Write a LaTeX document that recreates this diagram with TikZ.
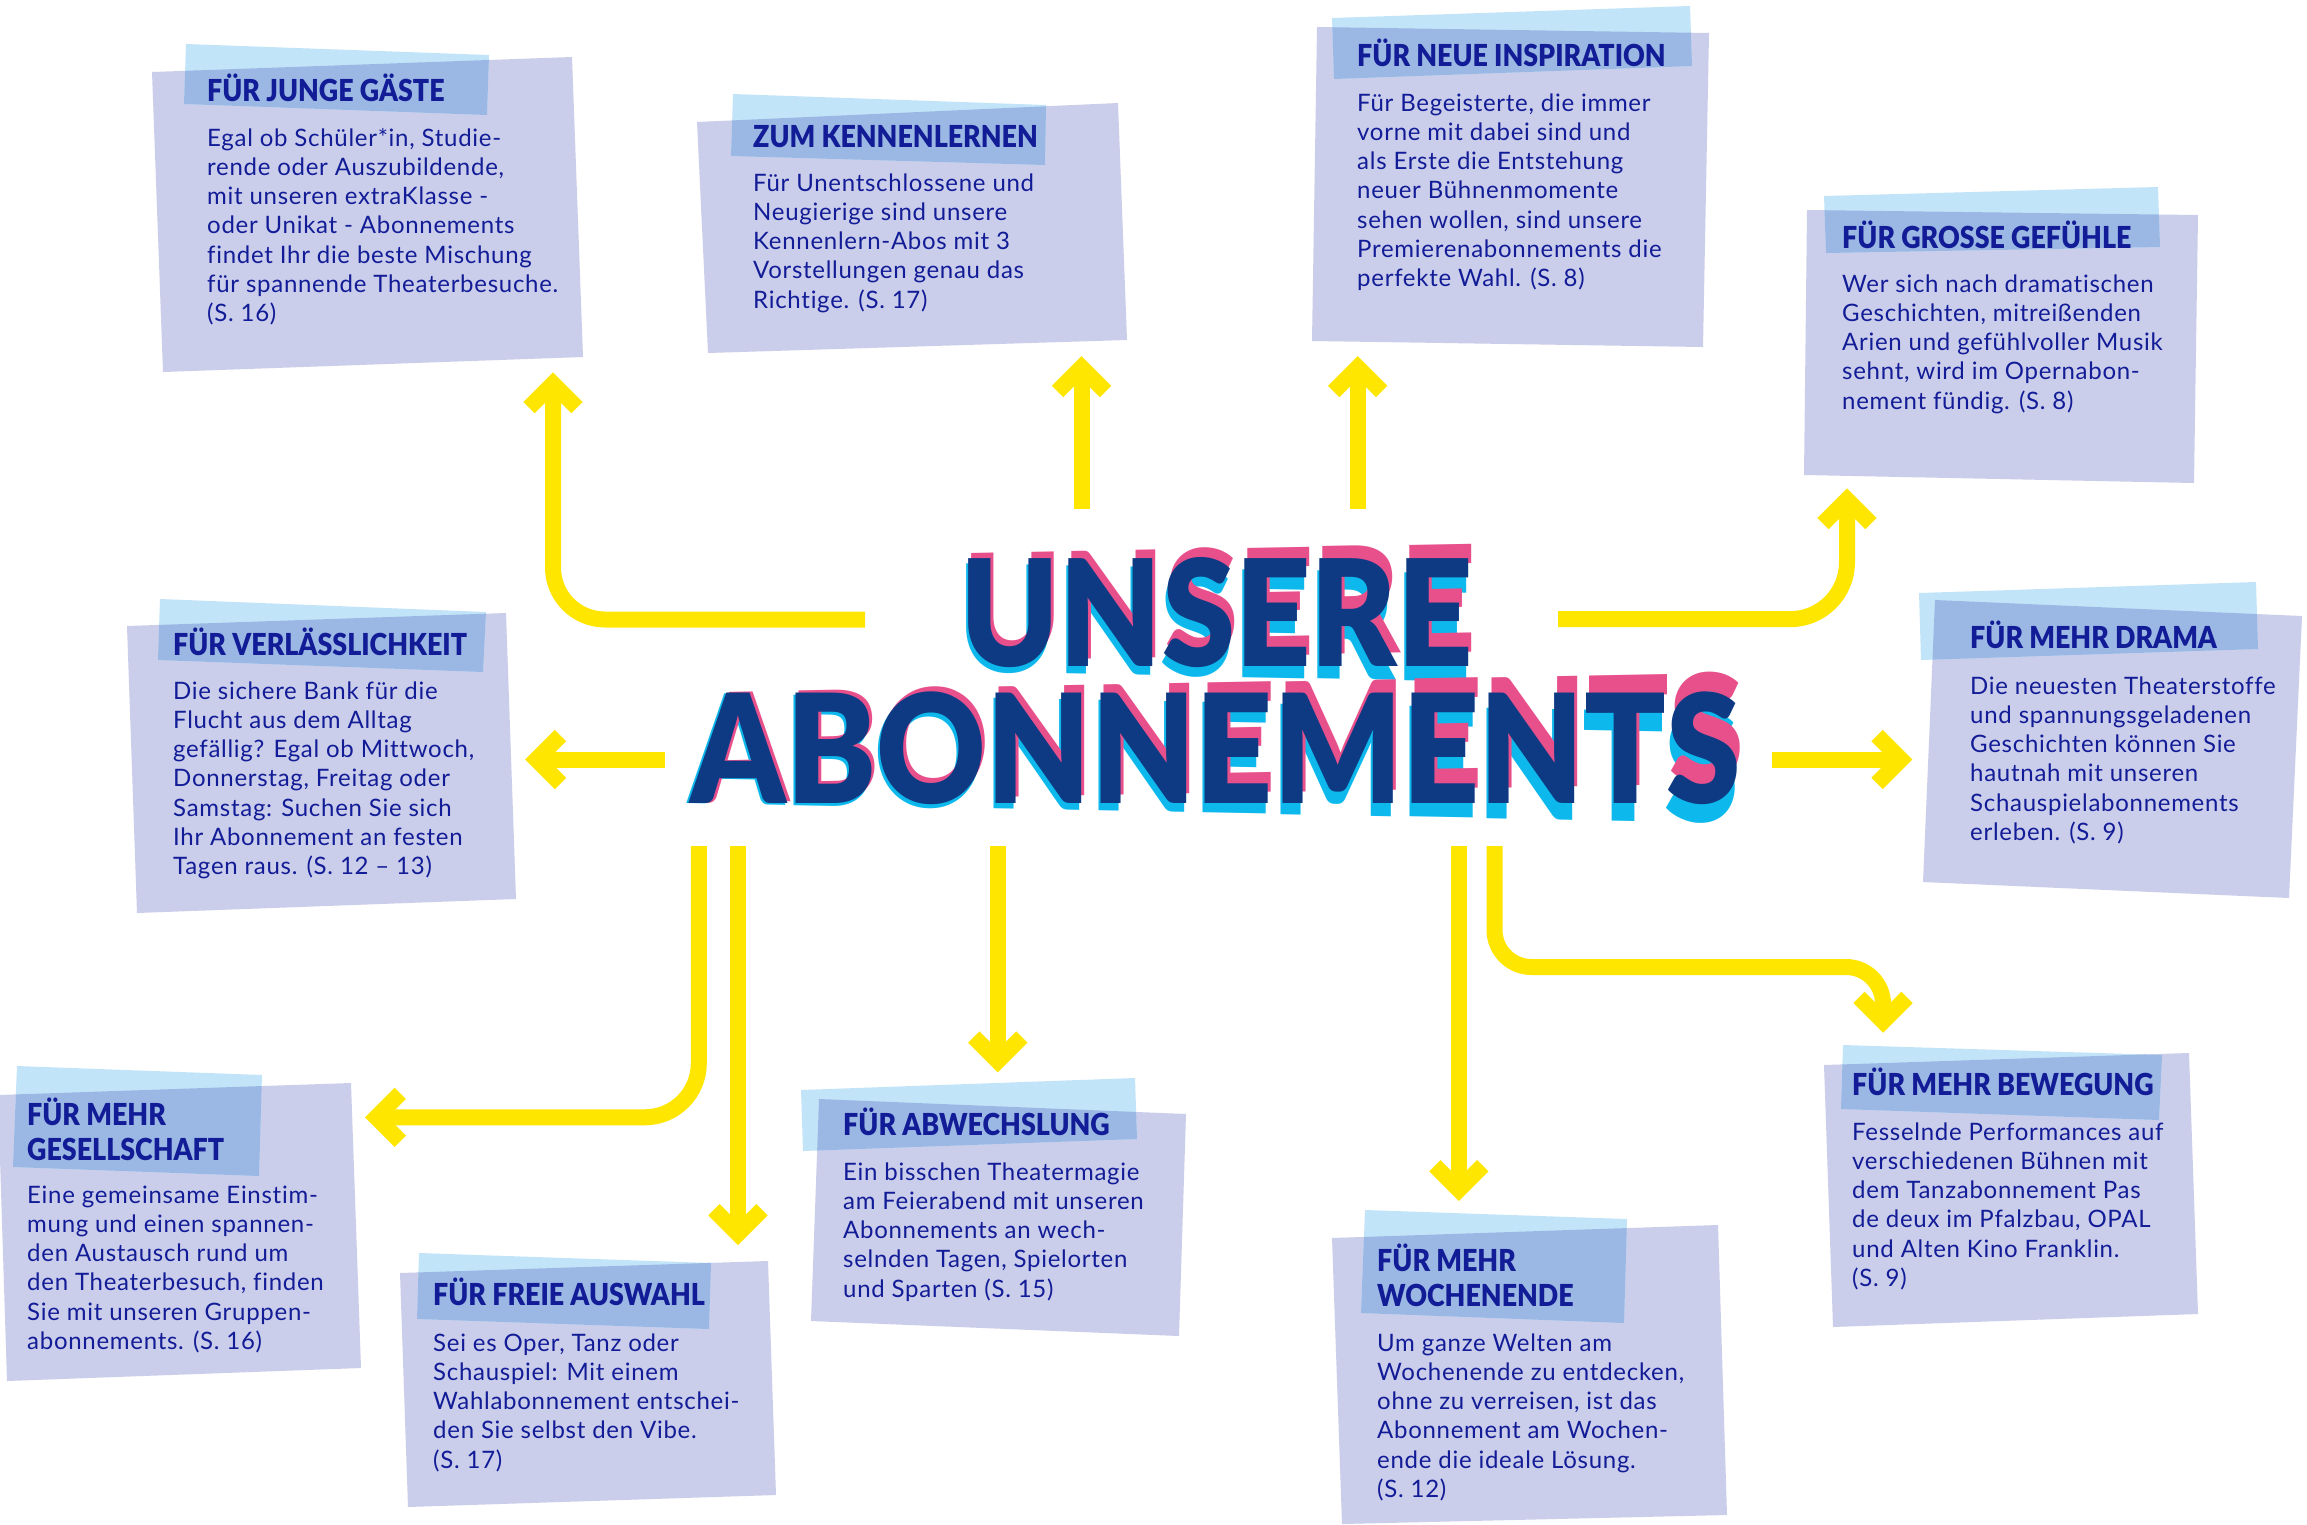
\documentclass[tikz,border=0pt]{standalone}
\usepackage{fontspec}
\usepackage{graphicx}
\setmainfont{Lato}
\newfontfamily\bodyfont[LetterSpace=3,Ligatures=NoCommon]{Lato}
\IfFontExistsTF{Lato Black}{%
  \newfontfamily\titlefont{Lato Black}%
  \newfontfamily\headfontX[FakeStretch=0.885]{Lato Black}%
  \newcommand\headfont{\headfontX}}{%
  \newcommand\titlefont{\bfseries}%
  \newfontfamily\headfontX[FakeStretch=0.92]{Lato}%
  \newcommand\headfont{\headfontX\bfseries}}
\definecolor{lav}{RGB}{203,206,235}
\definecolor{bandc}{RGB}{194,228,248}
\definecolor{ovl}{RGB}{155,184,229}
\definecolor{txt}{RGB}{18,28,150}
\definecolor{yel}{RGB}{255,230,0}
\definecolor{navy}{RGB}{14,58,132}
\definecolor{pinkc}{RGB}{232,80,140}
\definecolor{cyanc}{RGB}{13,185,236}
\newcommand\bodyf{\fontsize{24pt}{29.3pt}\selectfont\bodyfont}
\newcommand\headf{\fontsize{30.3pt}{35pt}\selectfont\headfont}
\newcommand\lines[1]{\begin{tabular}[t]{@{}l@{}}#1\end{tabular}}
\newcommand\abox[2]{%
  \fill[lav] #1 -- cycle;
  \fill[bandc] #2 -- cycle;
  \begin{scope}\clip #1 -- cycle; \fill[ovl] #2 -- cycle;\end{scope}}
\newcommand\wordA{\resizebox{512pt}{109pt}{UNSERE}}
\newcommand\wordB{\resizebox{1049pt}{111.6pt}{ABONNEMENTS}}
\tikzset{
  head/.style={anchor=base west, inner sep=0, text=txt, font=\headf},
  bodyt/.style={anchor=base west, inner sep=0, text=txt, font=\bodyf},
  ttl/.style={anchor=base west, inner sep=0, font=\titlefont},
  arrowline/.style={draw=yel, line width=16pt, line cap=butt},
  chev/.pic={\draw[arrowline, line join=miter] (-24,24) -- (0,0) -- (24,24);}
}
\begin{document}
\begin{tikzpicture}[x=1pt,y=-1pt]
\useasboundingbox (0,0) rectangle (2307,1524);
\fill[white] (0,0) rectangle (2307,1524);

% ---------- boxes ----------
\abox{(152,72) -- (572,57) -- (583,357) -- (163,372)}{(186,44) -- (489,55) -- (487,115) -- (184,104)}
\node[head] (h1) at (207,101.7) {FÜR JUNGE GÄSTE};
\node[bodyt] (b1) at (207,146) {\lines{Egal ob Schüler*in, Studie-\\rende oder Auszubildende,\\mit unseren extraKlasse -\\oder Unikat - Abonnements\\findet Ihr die beste Mischung\\für spannende Theaterbesuche.\\(S. 16)}};

\abox{(697,122) -- (1118,103) -- (1127,340) -- (708,353)}{(733,94) -- (1046,105) -- (1045,165) -- (731,156)}
\node[head] (h2) at (753,147) {ZUM KENNENLERNEN};
\node[bodyt] (b2) at (753,191) {\lines{Für Unentschlossene und\\Neugierige sind unsere\\Kennenlern-Abos mit 3\\Vorstellungen genau das\\Richtige. (S. 17)}};

\abox{(1317,27) -- (1709,33) -- (1703,347) -- (1312,341)}{(1332,18) -- (1690,6) -- (1692,66) -- (1334,79)}
\node[head] (h3) at (1357,66.7) {FÜR NEUE INSPIRATION};
\node[bodyt] (b3) at (1357,111) {\lines{Für Begeisterte, die immer\\vorne mit dabei sind und\\als Erste die Entstehung\\neuer Bühnenmomente\\sehen wollen, sind unsere\\Premierenabonnements die\\perfekte Wahl. (S. 8)}};

\abox{(1807,210) -- (2198,215) -- (2194,483) -- (1804,475)}{(1824,196) -- (2158,187) -- (2160,247) -- (1826,253)}
\node[head] (h4) at (1842,248) {FÜR GROSSE GEFÜHLE};
\node[bodyt] (b4) at (1842,292) {\lines{Wer sich nach dramatischen\\Geschichten, mitreißenden\\Arien und gefühlvoller Musik\\sehnt, wird im Opernabon-\\nement fündig. (S. 8)}};

\abox{(127,626) -- (506,613) -- (516,899) -- (137,913)}{(160,599) -- (486,612) -- (483,672) -- (158,660)}
\node[head] (h5) at (173,655) {FÜR VERLÄSSLICHKEIT};
\node[bodyt] (b5) at (173,699) {\lines{Die sichere Bank für die\\Flucht aus dem Alltag\\gefällig? Egal ob Mittwoch,\\Donnerstag, Freitag oder\\Samstag: Suchen Sie sich\\Ihr Abonnement an festen\\Tagen raus. (S. 12 – 13)}};

\abox{(1935,600) -- (2302,616) -- (2289,898) -- (1923,882)}{(1919,593) -- (2256,582) -- (2258,649) -- (1921,660)}
\node[head] (h6) at (1970,648) {FÜR MEHR DRAMA};
\node[bodyt] (b6) at (1970,694) {\lines{Die neuesten Theaterstoffe\\und spannungsgeladenen\\Geschichten können Sie\\hautnah mit unseren\\Schauspielabonnements\\erleben. (S. 9)}};

\abox{(-2,1095) -- (351,1083) -- (361,1368) -- (7,1381)}{(17,1066) -- (262,1075) -- (259,1176) -- (13,1167)}
\node[head] (h7) at (27,1125) {\lines{FÜR MEHR\\GESELLSCHAFT}};
\node[bodyt] (b7) at (27,1203) {\lines{Eine gemeinsame Einstim-\\mung und einen spannen-\\den Austausch rund um\\den Theaterbesuch, finden\\Sie mit unseren Gruppen-\\abonnements. (S. 16)}};

\abox{(400,1273) -- (768,1261) -- (776,1495) -- (408,1507)}{(419,1253) -- (711,1263) -- (709,1329) -- (417,1319)}
\node[head] (h8) at (433,1305) {FÜR FREIE AUSWAHL};
\node[bodyt] (b8) at (433,1351) {\lines{Sei es Oper, Tanz oder\\Schauspiel: Mit einem\\Wahlabonnement entschei-\\den Sie selbst den Vibe.\\(S. 17)}};

\abox{(819,1099) -- (1186,1114) -- (1179,1336) -- (811,1321)}{(801,1090) -- (1135,1078) -- (1137,1139) -- (803,1151)}
\node[head] (h9) at (843,1135) {FÜR ABWECHSLUNG};
\node[bodyt] (b9) at (843,1180) {\lines{Ein bisschen Theatermagie\\am Feierabend mit unseren\\Abonnements an wech-\\selnden Tagen, Spielorten\\und Sparten (S. 15)}};

\abox{(1332,1238) -- (1718,1225) -- (1727,1515) -- (1342,1524)}{(1365,1210) -- (1627,1219) -- (1624,1323) -- (1361,1313)}
\node[head] (h10) at (1377,1271) {\lines{FÜR MEHR\\WOCHENENDE}};
\node[bodyt] (b10) at (1377,1351) {\lines{Um ganze Welten am\\Wochenende zu entdecken,\\ohne zu verreisen, ist das\\Abonnement am Wochen-\\ende die ideale Lösung.\\(S. 12)}};

\abox{(1824,1065) -- (2189,1053) -- (2198,1314) -- (1833,1327)}{(1843,1045) -- (2162,1055) -- (2159,1120) -- (1841,1109)}
\node[head] (h11) at (1852,1095) {FÜR MEHR BEWEGUNG};
\node[bodyt] (b11) at (1852,1140) {\lines{Fesselnde Performances auf\\verschiedenen Bühnen mit\\dem Tanzabonnement Pas\\de deux im Pfalzbau, OPAL\\und Alten Kino Franklin.\\(S. 9)}};

% ---------- arrows ----------
\coordinate (aS) at (865,619.5);   \coordinate (aE) at (553,383.6);
\coordinate (bS) at (1081.5,509);  \coordinate (bE) at (1081.5,367.5);
\coordinate (cS) at (1357.7,509);  \coordinate (cE) at (1357.7,367.5);
\coordinate (dS) at (1558,619.2);  \coordinate (dE) at (1847,499.6);
\coordinate (eS) at (665,759.5);   \coordinate (eE) at (536.5,759.5);
\coordinate (fS) at (1771.5,759.5);\coordinate (fE) at (1901,759.5);
\coordinate (gS) at (698.8,846);   \coordinate (gE) at (376.3,1117.3);
\coordinate (hS) at (738,846);     \coordinate (hE) at (738,1233.7);
\coordinate (iS) at (997.8,846);   \coordinate (iE) at (997.8,1061);
\coordinate (jS) at (1458.8,846);  \coordinate (jE) at (1458.8,1189.7);
\coordinate (kS) at (1494.5,846);  \coordinate (kM) at (1883,967); \coordinate (kE) at (1883,1021.4);

\draw[arrowline, rounded corners=52pt] (aS) -| (aE);
\draw[arrowline] (bS) -- (bE);
\draw[arrowline] (cS) -- (cE);
\draw[arrowline, rounded corners=57pt] (dS) -| (dE);
\draw[arrowline] (eS) -- (eE);
\draw[arrowline] (fS) -- (fE);
\draw[arrowline, rounded corners=54pt] (gS) |- (gE);
\draw[arrowline] (hS) -- (hE);
\draw[arrowline] (iS) -- (iE);
\draw[arrowline] (jS) -- (jE);
\draw[arrowline] (kS) [rounded corners=37pt] |- (kM) [rounded corners=28pt] -- (kE);

\pic at (aE) {chev};
\pic at (bE) {chev};
\pic at (cE) {chev};
\pic at (dE) {chev};
\pic[rotate=90] at (eE) {chev};
\pic[rotate=-90] at (fE) {chev};
\pic[rotate=90] at (gE) {chev};
\pic[rotate=180] at (hE) {chev};
\pic[rotate=180] at (iE) {chev};
\pic[rotate=180] at (jE) {chev};
\pic[rotate=180] at (kE) {chev};

% ---------- title ----------
\begin{scope}[shift={(690,750)}, yslant=-0.019, shift={(-690,-750)}, xshift=-2pt]
  \node[ttl, transform shape, text=cyanc] (t1c) at (960.6,666.7) {\wordA};
  \node[ttl, transform shape, text=cyanc] (t2c) at (690.5,803.3) {\wordB};
\end{scope}
\begin{scope}[shift={(690,750)}, yslant=0.019, shift={(-690,-750)}, xshift=3pt]
  \node[ttl, transform shape, text=pinkc] (t1p) at (960.6,666.7) {\wordA};
  \node[ttl, transform shape, text=pinkc] (t2p) at (690.5,803.3) {\wordB};
\end{scope}
\node[ttl, text=navy] (t1) at (960.6,666.7) {\wordA};
\node[ttl, text=navy] (t2) at (690.5,803.3) {\wordB};
\end{tikzpicture}
\end{document}
